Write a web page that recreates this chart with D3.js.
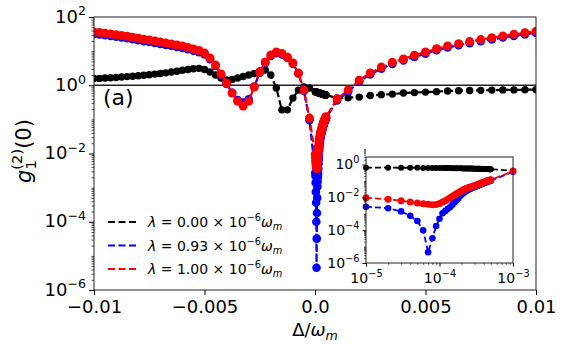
<!DOCTYPE html>
<html>
<head>
<meta charset="utf-8">
<script src="https://cdn.jsdelivr.net/npm/d3@7"></script>
<style>
  body { margin: 0; background: #fff; }
  svg { display: block; font-family: "DejaVu Sans", sans-serif; }
</style>
</head>
<body>
<svg id="chart" width="562" height="345"></svg>
<script>
// detuning grid, left side (coarse-ish) and right side
const deltaNeg = [-0.01, -0.00975, -0.0095, -0.00925, -0.009, -0.00875, -0.0085, -0.00825, -0.008, -0.00775,
  -0.0075, -0.00725, -0.007, -0.00675, -0.0065, -0.00625, -0.006, -0.00575, -0.0055, -0.00525,
  -0.005, -0.00475, -0.0045, -0.00425, -0.004, -0.00375, -0.0035, -0.00325, -0.003, -0.00275,
  -0.0025, -0.00225, -0.002, -0.00175, -0.0015, -0.00125, -0.001, -0.00075, -0.0005, -0.00025];
const blackNeg = [1.57, 1.59, 1.63, 1.66, 1.69, 1.74, 1.79, 1.84, 1.90, 1.96,
  2.03, 2.12, 2.20, 2.31, 2.44, 2.57, 2.74, 2.89, 3.03, 3.13,
  2.89, 2.44, 1.99, 1.63, 1.42, 1.47, 1.63, 1.80, 1.99, 2.20,
  2.61, 2.79, 1.99, 0.83, 0.19, 0.19, 0.42, 0.72, 0.89, 0.83];
const blueNeg = [32.0, 30.7, 29.5, 27.9, 26.4, 25.3, 23.9, 22.5, 21.0, 19.6,
  18.7, 17.4, 16.3, 15.2, 14.3, 13.3, 12.4, 11.3, 10.2, 9.3,
  8.0, 5.8, 3.7, 2.0, 1.1, 0.60, 0.37, 0.31, 0.39, 0.92,
  2.35, 4.5, 7.2, 8.7, 8.0, 6.4, 4.3, 2.2, 0.68, 0.095];
const redNeg = [36.3, 34.9, 33.5, 31.7, 30.0, 28.7, 27.2, 25.6, 23.9, 22.3,
  21.2, 19.8, 18.5, 17.3, 16.2, 15.1, 14.1, 12.8, 11.5, 10.4,
  8.8, 6.3, 3.9, 2.13, 1.16, 0.59, 0.34, 0.245, 0.34, 0.89,
  2.44, 4.8, 7.7, 9.4, 8.5, 6.7, 4.5, 2.28, 0.72, 0.109];

// fine grid near zero (also shown in the inset)
const deltaFine = [1e-5, 2e-5, 3e-5, 4e-5, 5e-5, 6e-5, 7e-5, 8e-5, 9e-5, 1e-4,
  1.1e-4, 1.2e-4, 1.3e-4, 1.4e-4, 1.5e-4, 1.6e-4, 1.7e-4, 1.8e-4, 1.9e-4, 2e-4,
  2.1e-4, 2.2e-4, 2.3e-4, 2.4e-4, 2.5e-4, 2.6e-4, 2.7e-4, 2.8e-4, 2.9e-4, 3e-4,
  3.1e-4, 3.2e-4, 3.3e-4, 3.4e-4, 3.5e-4, 3.6e-4, 3.7e-4, 3.8e-4, 3.9e-4, 4e-4,
  4.1e-4, 4.2e-4, 4.3e-4, 4.4e-4, 4.5e-4, 4.6e-4, 4.7e-4, 4.8e-4, 4.9e-4, 5e-4];
const blackFine = [0.65, 0.65, 0.64, 0.64, 0.64, 0.63, 0.63, 0.63, 0.62, 0.62,
  0.62, 0.61, 0.61, 0.61, 0.60, 0.60, 0.60, 0.59, 0.59, 0.59,
  0.58, 0.58, 0.58, 0.58, 0.57, 0.57, 0.57, 0.57, 0.56, 0.56,
  0.56, 0.56, 0.55, 0.55, 0.55, 0.55, 0.54, 0.54, 0.54, 0.54,
  0.54, 0.53, 0.53, 0.53, 0.53, 0.53, 0.52, 0.52, 0.52, 0.52];
const blueFine = [2.7e-3, 2.2e-3, 1.4e-3, 7.5e-4, 3.6e-4, 1.0e-4, 4.5e-6, 3.2e-5, 1.8e-4, 5.0e-4,
  1.07e-3, 1.5e-3, 2.0e-3, 2.6e-3, 3.6e-3, 5.0e-3, 6.6e-3, 8.6e-3, 0.0123, 0.0151,
  0.0180, 0.0213, 0.0246, 0.0277, 0.0302, 0.0328, 0.0355, 0.0380, 0.0404, 0.0430,
  0.0454, 0.0479, 0.0509, 0.0541, 0.0572, 0.0605, 0.0639, 0.0674, 0.0711, 0.0744,
  0.0774, 0.0808, 0.0839, 0.0874, 0.0905, 0.0936, 0.0974, 0.1007, 0.1044, 0.1071];
const redFine = [9.5e-3, 7.6e-3, 6.3e-3, 5.3e-3, 4.6e-3, 4.1e-3, 3.8e-3, 3.6e-3, 3.7e-3, 4.2e-3,
  5.2e-3, 6.3e-3, 7.7e-3, 9.6e-3, 0.0117, 0.0140, 0.0165, 0.0193, 0.0224, 0.0252,
  0.0281, 0.0313, 0.0346, 0.0374, 0.0397, 0.0420, 0.0444, 0.0469, 0.0493, 0.0518,
  0.0544, 0.0570, 0.0602, 0.0636, 0.0669, 0.0704, 0.0739, 0.0775, 0.0813, 0.0846,
  0.0880, 0.0913, 0.0948, 0.0982, 0.1017, 0.1052, 0.1088, 0.1125, 0.116, 0.119];

const deltaPos = [0.001, 0.0015, 0.002, 0.0025, 0.003, 0.0035, 0.004, 0.0045, 0.005, 0.0055,
  0.006, 0.0065, 0.007, 0.0075, 0.008, 0.0085, 0.009, 0.0095, 0.01];
const blackPos = [0.42, 0.43, 0.45, 0.50, 0.53, 0.55, 0.59, 0.61, 0.63, 0.65,
  0.68, 0.69, 0.70, 0.71, 0.72, 0.73, 0.73, 0.74, 0.74];
const bluePos = [0.36, 0.65, 1.26, 2.07, 3.06, 4.2, 5.3, 6.8, 8.4, 10.6,
  12.8, 14.9, 17.1, 19.6, 22.1, 25.0, 27.9, 31.0, 34.2];
const redPos = [0.40, 0.72, 1.40, 2.3, 3.4, 4.7, 5.9, 7.6, 9.4, 11.8,
  14.2, 16.5, 19.0, 21.8, 24.6, 27.8, 31.0, 34.5, 38.0];

const lambdaLabels = ["0.00", "0.93", "1.00"];
const seriesColors = ["#000000", "#0000ff", "#ff0000"];
const xTicks = [-0.01, -0.005, 0, 0.005, 0.01];
const xTickLabels = ["\u22120.01", "\u22120.005", "0.0", "0.005", "0.01"];
const yTickExps = [-6, -4, -2, 0, 2];
const insetXExps = [-5, -4, -3];
const insetYExps = [-6, -4, -2, 0];

const svg = d3.select("#chart");
const m = {left: 94, right: 536, top: 17, bottom: 290};
const x = d3.scaleLinear().domain([-0.01, 0.01]).range([m.left, m.right]);
const y = d3.scaleLog().domain([1e-6, 1e2]).range([m.bottom, m.top]);

const ins = {left: 366, right: 513, top: 157, bottom: 263};
const xi = d3.scaleLog().domain([1e-5, 1e-3]).range([ins.left, ins.right]);
const yi = d3.scaleLog().domain([1e-6, 2.9]).range([ins.bottom, ins.top]);

function zip(a, b) { return a.map((v, i) => [v, b[i]]); }
const allDelta = deltaNeg.concat(deltaFine, deltaPos);
const mainSeries = [
  zip(allDelta, blackNeg.concat(blackFine, blackPos)),
  zip(allDelta, blueNeg.concat(blueFine, bluePos)),
  zip(allDelta, redNeg.concat(redFine, redPos))
];
const insDelta = deltaFine.concat([deltaPos[0]]);
const insetSeries = [
  zip(insDelta, blackFine.concat([blackPos[0]])),
  zip(insDelta, blueFine.concat([bluePos[0]])),
  zip(insDelta, redFine.concat([redPos[0]]))
];

function powLabel(sel, exp, fs) {
  sel.text("");
  sel.append("tspan").text("10");
  sel.append("tspan").attr("font-size", fs * 0.7).attr("dy", -fs * 0.4)
    .text((exp < 0 ? "\u2212" : "") + Math.abs(exp));
}

function drawSeries(g, pts, color, r, sx, sy, lw, dash) {
  g.append("path").datum(pts)
    .attr("d", d3.line().x(d => sx(d[0])).y(d => sy(d[1])))
    .attr("fill", "none").attr("stroke", color)
    .attr("stroke-width", lw).attr("stroke-dasharray", dash);
  g.selectAll(null).data(pts).enter().append("circle")
    .attr("cx", d => sx(d[0])).attr("cy", d => sy(d[1]))
    .attr("r", r).attr("fill", color);
}

// ---- main axes ----
svg.append("clipPath").attr("id", "clipMain").append("rect")
  .attr("x", m.left).attr("y", m.top)
  .attr("width", m.right - m.left).attr("height", m.bottom - m.top);

const plot = svg.append("g").attr("clip-path", "url(#clipMain)");
plot.append("line")
  .attr("x1", m.left).attr("x2", m.right)
  .attr("y1", y(1)).attr("y2", y(1))
  .attr("stroke", "#222").attr("stroke-width", 1.6);

const mainR = [3.7, 4.3, 4.5];
mainSeries.forEach((s, i) => drawSeries(plot, s, seriesColors[i], mainR[i], x, y, 2.2, "7,3"));

svg.append("rect")
  .attr("x", m.left).attr("y", m.top)
  .attr("width", m.right - m.left).attr("height", m.bottom - m.top)
  .attr("fill", "none").attr("stroke", "#222").attr("stroke-width", 1);

// x axis
const xAxis = svg.append("g").attr("transform", `translate(0,${m.bottom})`)
  .call(d3.axisBottom(x).tickValues(xTicks).tickSize(5).tickPadding(4)
    .tickFormat((d, i) => xTickLabels[i]));
xAxis.select(".domain").remove();
xAxis.selectAll("text").attr("font-size", 18).attr("fill", "#000")
  .attr("font-family", "DejaVu Sans").attr("dy", "0.75em");

// y axis major + minor
const yMinor = [];
for (let e = -6; e < 2; e++) {
  for (let k = 1; k <= 9; k++) {
    const v = k * Math.pow(10, e);
    if (k === 1 && yTickExps.includes(e)) continue;
    yMinor.push(v);
  }
}
const yAxisMinor = svg.append("g").attr("transform", `translate(${m.left},0)`)
  .call(d3.axisLeft(y).tickValues(yMinor).tickSize(2.5).tickFormat(""));
yAxisMinor.select(".domain").remove();
yAxisMinor.selectAll("line").attr("stroke-width", 0.7);

const yAxis = svg.append("g").attr("transform", `translate(${m.left},0)`)
  .call(d3.axisLeft(y).tickValues(yTickExps.map(e => Math.pow(10, e)))
    .tickSize(5).tickPadding(3).tickFormat(""));
yAxis.select(".domain").remove();
yAxis.selectAll(".tick text").each(function (d) {
  const t = d3.select(this).attr("font-size", 18).attr("fill", "#000")
    .attr("font-family", "DejaVu Sans").attr("dy", 5);
  powLabel(t, Math.round(Math.log10(d)), 18);
});

// ---- legend ----
const leg = svg.append("g");
lambdaLabels.forEach((lab, i) => {
  const ly = 222 + i * 23.5;
  leg.append("line").attr("x1", 108).attr("x2", 137).attr("y1", ly).attr("y2", ly)
    .attr("stroke", seriesColors[i]).attr("stroke-width", 2.2).attr("stroke-dasharray", "7,3.5");
  const t = leg.append("text").attr("x", 148).attr("y", ly + 5).attr("font-size", 14);
  t.append("tspan").attr("font-style", "italic").text("\u03bb");
  t.append("tspan").text(" = " + lab + " \u00d7 10");
  t.append("tspan").attr("font-size", 9.8).attr("dy", -6).text("\u22126");
  t.append("tspan").attr("font-style", "italic").attr("dy", 6).text("\u03c9");
  t.append("tspan").attr("font-style", "italic").attr("font-size", 9.8).attr("dy", 3).text("m");
});

svg.append("text").attr("x", 103).attr("y", 105).attr("font-size", 22).text("(a)");

// axis labels
const yl = svg.append("text").attr("transform", "translate(31,151) rotate(-90)")
  .attr("text-anchor", "middle").attr("font-size", 21);
yl.append("tspan").attr("font-style", "italic").text("g");
yl.append("tspan").attr("font-size", 14.7).attr("dy", 5).text("1");
yl.append("tspan").attr("font-size", 14.7).attr("dx", -9.4).attr("dy", -14).text("(2)");
yl.append("tspan").attr("dy", 9).text("(0)");

const xl = svg.append("text").attr("x", 315).attr("y", 336)
  .attr("text-anchor", "middle").attr("font-size", 18);
xl.append("tspan").text("\u0394/");
xl.append("tspan").attr("font-style", "italic").text("\u03c9");
xl.append("tspan").attr("font-style", "italic").attr("font-size", 12.6).attr("dy", 4).text("m");

// ---- inset ----
const inset = svg.append("g");
inset.append("rect").attr("x", ins.left).attr("y", ins.top)
  .attr("width", ins.right - ins.left).attr("height", ins.bottom - ins.top)
  .attr("fill", "#fff");
const insR = [3, 3.3, 3.5];
insetSeries.forEach((s, i) => drawSeries(inset, s, seriesColors[i], insR[i], xi, yi, 1.8, "6,3"));
inset.append("rect").attr("x", ins.left).attr("y", ins.top)
  .attr("width", ins.right - ins.left).attr("height", ins.bottom - ins.top)
  .attr("fill", "none").attr("stroke", "#222").attr("stroke-width", 1);

const xiMinor = [];
for (let e = -5; e < -3; e++) for (let k = 2; k <= 9; k++) xiMinor.push(k * Math.pow(10, e));
const xiAxM = inset.append("g").attr("transform", `translate(0,${ins.bottom})`)
  .call(d3.axisBottom(xi).tickValues(xiMinor).tickSize(2).tickFormat(""));
xiAxM.select(".domain").remove();
xiAxM.selectAll("line").attr("stroke-width", 0.6);
const xiAx = inset.append("g").attr("transform", `translate(0,${ins.bottom})`)
  .call(d3.axisBottom(xi).tickValues(insetXExps.map(e => Math.pow(10, e)))
    .tickSize(3.5).tickPadding(3).tickFormat(""));
xiAx.select(".domain").remove();
xiAx.selectAll(".tick text").each(function (d) {
  const t = d3.select(this).attr("font-size", 14).attr("fill", "#000")
    .attr("font-family", "DejaVu Sans").attr("dy", "0.95em");
  powLabel(t, Math.round(Math.log10(d)), 14);
});

const yiMinor = [];
for (let e = -6; e < 1; e++) {
  for (let k = 1; k <= 9; k++) {
    if (k === 1 && insetYExps.includes(e)) continue;
    yiMinor.push(k * Math.pow(10, e));
  }
}
const yiAxM = inset.append("g").attr("transform", `translate(${ins.left},0)`)
  .call(d3.axisLeft(yi).tickValues(yiMinor).tickSize(2).tickFormat(""));
yiAxM.select(".domain").remove();
yiAxM.selectAll("line").attr("stroke-width", 0.6);
const yiAx = inset.append("g").attr("transform", `translate(${ins.left},0)`)
  .call(d3.axisLeft(yi).tickValues(insetYExps.map(e => Math.pow(10, e)))
    .tickSize(3.5).tickPadding(3).tickFormat(""));
yiAx.select(".domain").remove();
yiAx.selectAll(".tick text").each(function (d) {
  const t = d3.select(this).attr("font-size", 14).attr("fill", "#000")
    .attr("font-family", "DejaVu Sans").attr("dy", 4);
  powLabel(t, Math.round(Math.log10(d)), 14);
});
</script>
</body>
</html>
